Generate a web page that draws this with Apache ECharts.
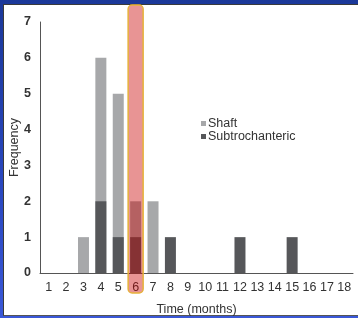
<!DOCTYPE html>
<html><head><meta charset="utf-8">
<script src="https://cdn.jsdelivr.net/npm/echarts@6/dist/echarts.min.js"></script>
<style>
html,body{margin:0;padding:0;width:358px;height:318px;overflow:hidden;}
#frame{position:absolute;left:0;top:0;width:358px;height:318px;background:linear-gradient(180deg,#1b3899 0%,#2a48c0 60%,#3a58d8 100%);}
#panel{position:absolute;left:3px;top:4px;width:355px;height:312px;background:#fff;border-left:1px solid #3a3a3a;border-top:1px solid #3a3a3a;border-bottom:1px solid #555;box-sizing:border-box;}
#chart{position:absolute;left:0;top:0;width:358px;height:318px;}
</style></head>
<body>
<div id="frame"></div><div id="panel"></div><div id="chart"></div>
<script>
const months = ['1','2','3','4','5','6','7','8','9','10','11','12','13','14','15','16','17','18'];
const shaft = [0,0,1,6,5,2,2,0,0,0,0,0,0,0,0,0,0,0];
const subtrochanteric = [0,0,0,2,1,1,0,1,0,0,0,1,0,0,1,0,0,0];
const highlightMonth = '6';

const chart = echarts.init(document.getElementById('chart'), null, {renderer:'canvas'});
const font = '"Liberation Sans", Arial, sans-serif';
chart.setOption({
  backgroundColor: 'transparent',
  animation: false,
  textStyle: {fontFamily: font},
  grid: {left: 40, right: 5, top: 22, bottom: 45, containLabel: false, outerBoundsMode: 'none'},
  legend: {
    orient: 'vertical', left: 196, top: 112, itemWidth: 5, itemHeight: 5, itemGap: 0,
    icon: 'rect',
    textStyle: {fontSize: 12.5, color: '#333', fontFamily: font, padding: [0,0,0,-3]},
    data: ['Shaft','Subtrochanteric']
  },
  xAxis: {
    type: 'category', data: months,
    name: 'Time (months)', nameLocation: 'middle', nameGap: 30, nameMoveOverlap: false,
    nameTextStyle: {fontSize: 12.5, color: '#333'},
    axisLine: {lineStyle: {color: '#555', width: 1}},
    axisTick: {show: false},
    axisLabel: {fontSize: 12.5, color: '#333', margin: 8, interval: 0}
  },
  yAxis: {
    type: 'value', min: 0, max: 7, interval: 1,
    name: 'Frequency', nameLocation: 'middle', nameGap: 19, nameMoveOverlap: false,
    nameTextStyle: {fontSize: 12.5, color: '#333'},
    axisLine: {show: true, lineStyle: {color: '#555', width: 1}},
    axisTick: {show: false},
    splitLine: {show: false},
    axisLabel: {fontSize: 12.5, color: '#333', margin: 9, fontWeight: 'bold'}
  },
  series: [
    {name: 'Shaft', type: 'bar', data: shaft, barWidth: 11, barGap: '-100%',
     itemStyle: {color: '#a7a8aa'}},
    {name: 'Subtrochanteric', type: 'bar', data: subtrochanteric, barWidth: 11, barGap: '-100%',
     itemStyle: {color: '#56575a'}}
  ]
});
const cx = chart.convertToPixel({xAxisIndex: 0}, highlightMonth);
chart.setOption({
  graphic: [{
    type: 'rect', z: 100,
    shape: {x: cx - 7.5, y: 5, width: 15, height: 288, r: 4},
    style: {fill: 'rgba(200,0,0,0.42)', stroke: '#e6b23a', lineWidth: 1.5}
  }]
});
</script>
</body></html>
